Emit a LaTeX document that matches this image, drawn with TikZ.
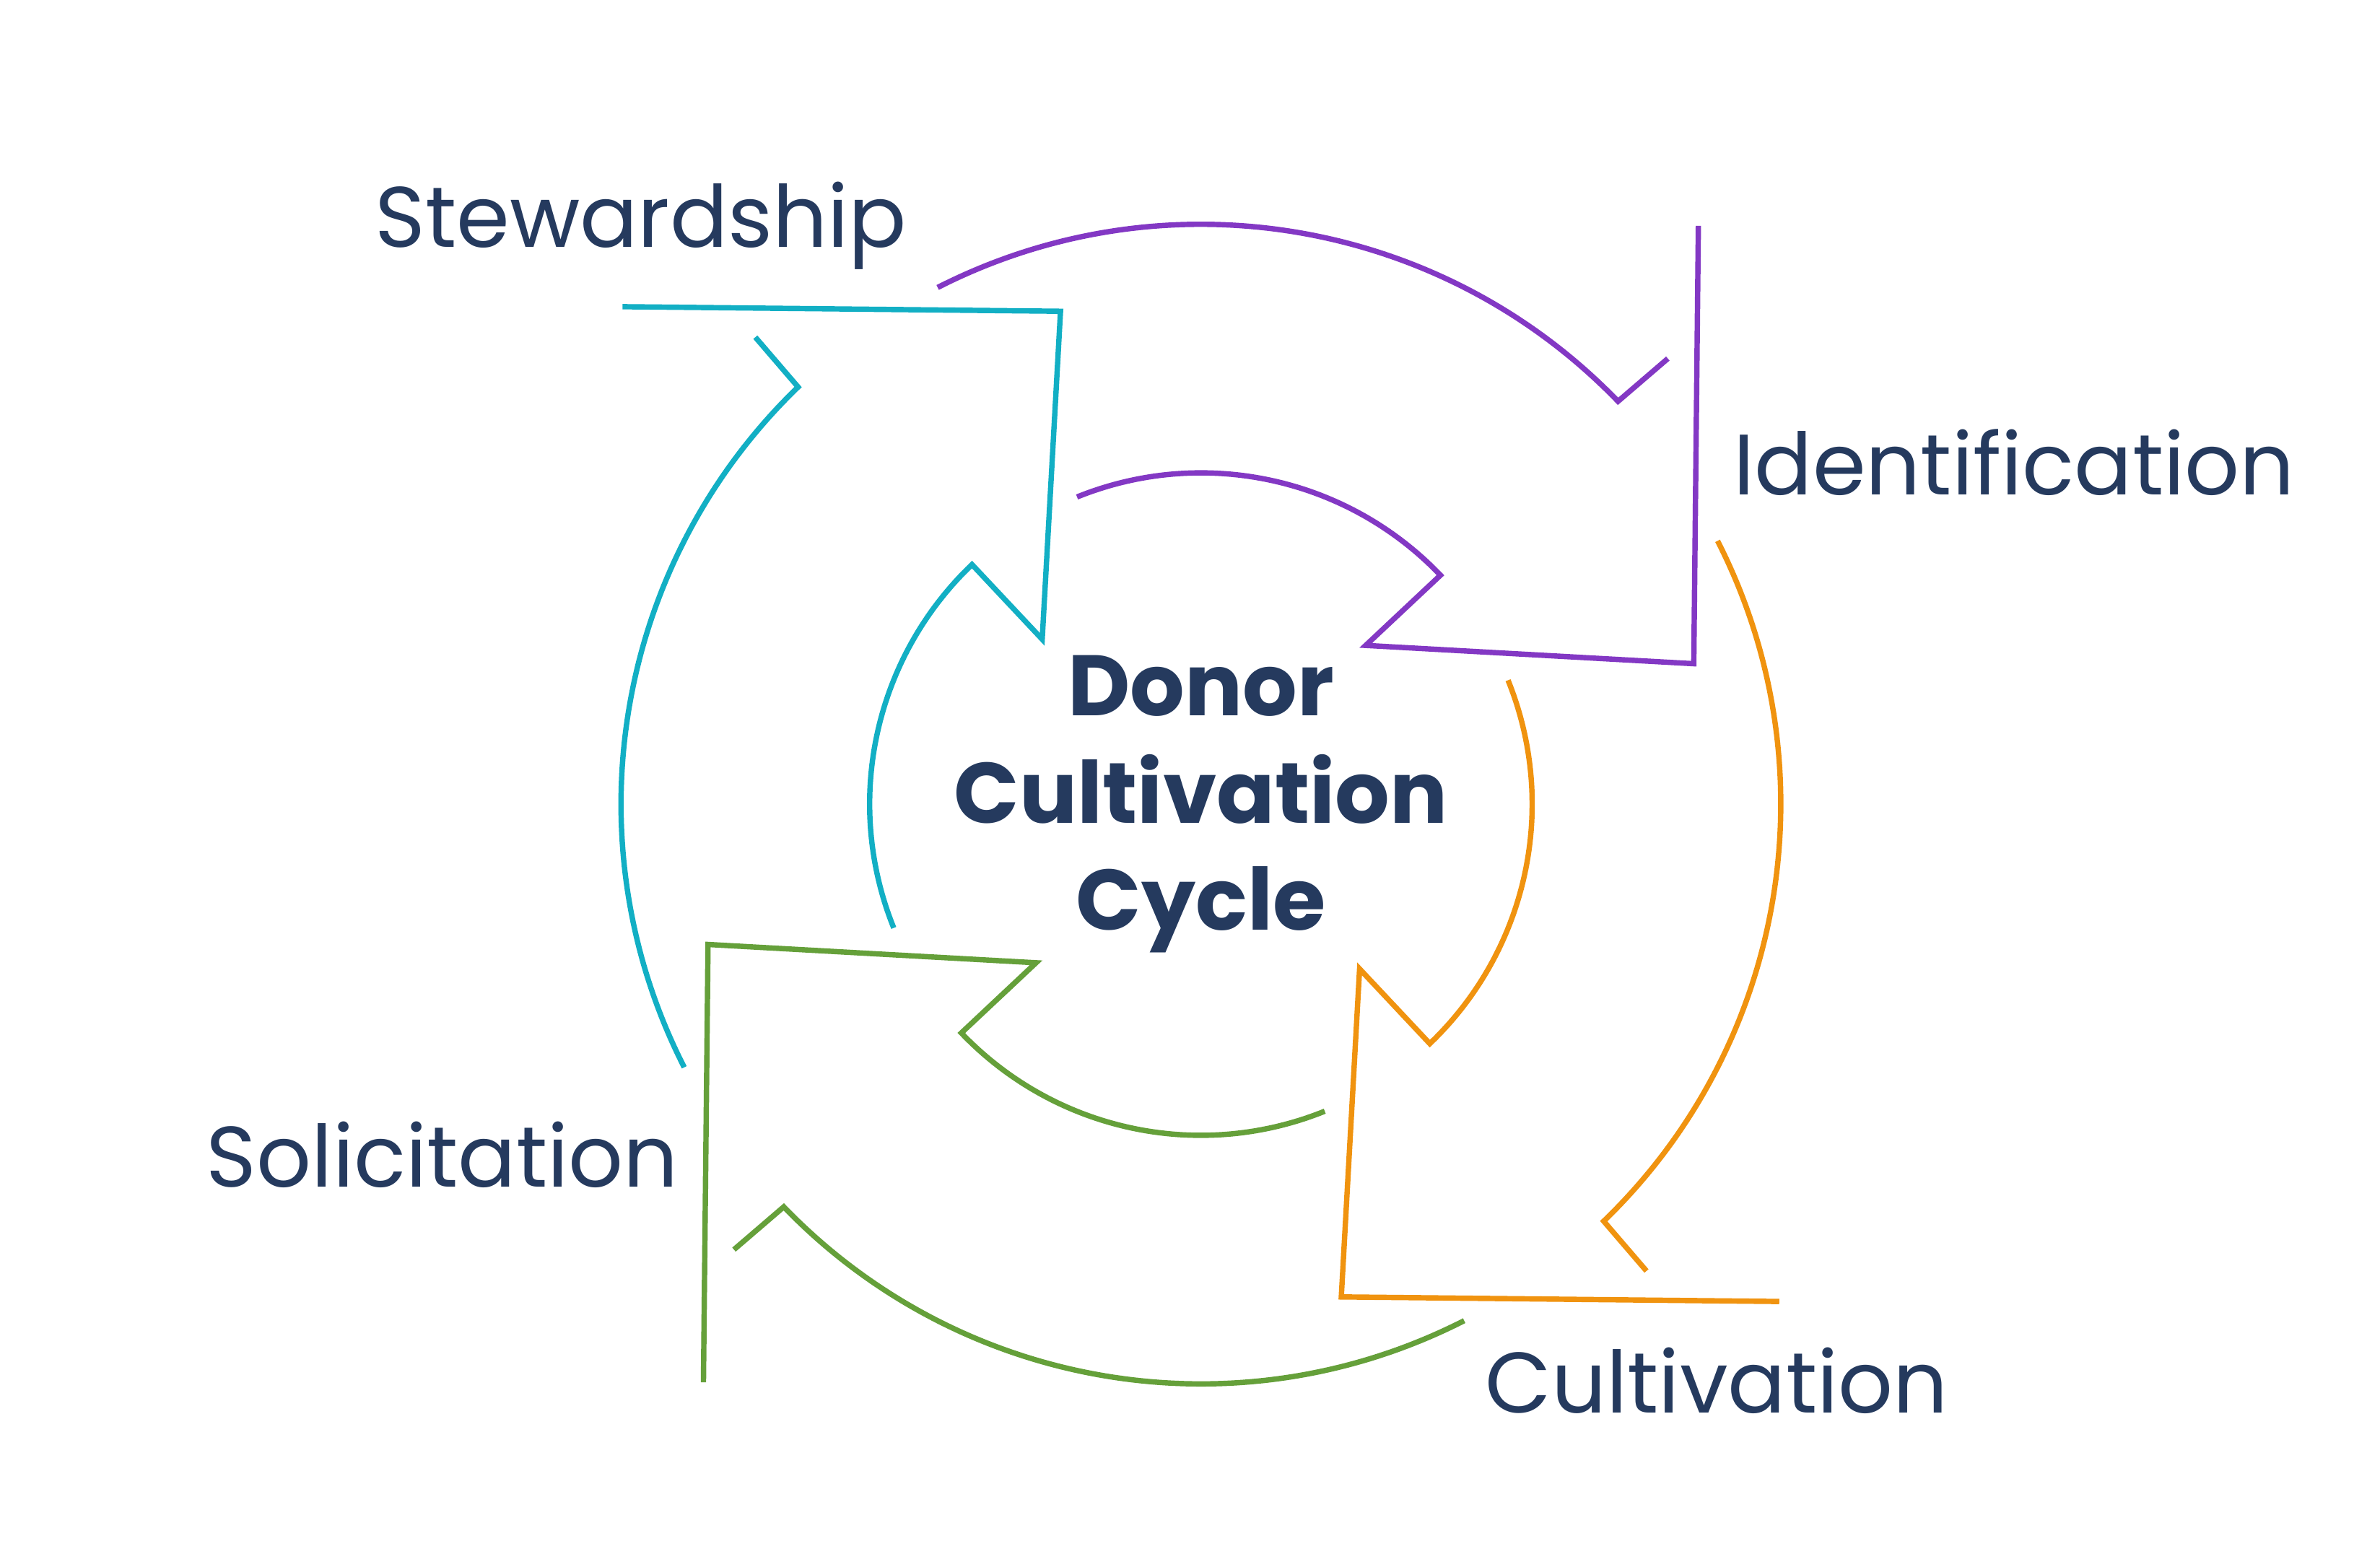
\documentclass[tikz,border=0pt]{standalone}
\usepackage{fontspec}
\setmainfont{Poppins}
\definecolor{idpurple}{HTML}{8338C4}
\definecolor{cultorange}{HTML}{F0930F}
\definecolor{solgreen}{HTML}{65A03A}
\definecolor{stewcyan}{HTML}{12AFC4}
\definecolor{navy}{HTML}{253A5E}
\tikzset{
  cyclearrow/.style={line width=1pt, line join=miter},
  stagelabel/.style={text=navy, font=\fontsize{16}{18}\selectfont, inner sep=0pt}
}
\begin{document}
\begin{tikzpicture}
		\useasboundingbox (-7.87,-5.0) rectangle (7.727,5.27);
		\foreach \ang/\col in {0/idpurple,-90/cultorange,180/solgreen,90/stewcyan}
		{
		\begin{scope}[rotate=\ang, cyclearrow, draw=\col]
		\draw (117:3.80) arc (117:44:3.80) -- (3.06,2.92);
		\draw (3.26,3.79) -- (3.23,0.92) -- (1.08,1.04) -- (1.57,1.50) arc (43.7:112:2.17);
		\end{scope}
		}
		\node[stagelabel] (stew) at (-3.67,3.79) {Stewardship};
		\node[stagelabel] (ident) at (5.33,2.24) {Identification};
		\node[stagelabel] (cult) at (3.38,-3.78) {Cultivation};
		\node[stagelabel] (solic) at (-4.97,-2.30) {Solicitation};
		\node[text=navy, font=\fontsize{16}{20}\selectfont\bfseries, align=center] (title) at (0,0) {Donor\\Cultivation\\Cycle};
\end{tikzpicture}
\end{document}
